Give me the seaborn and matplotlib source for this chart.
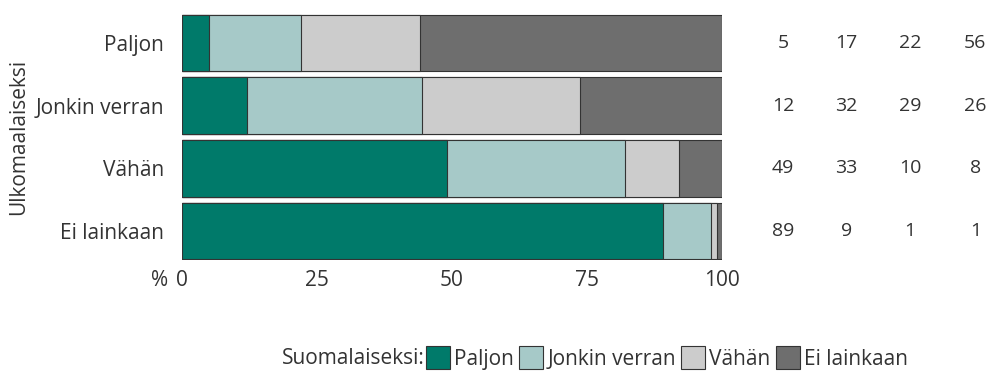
import pandas as pd
import numpy as np
import matplotlib
matplotlib.use("Agg")
import matplotlib.pyplot as plt
import seaborn as sns
from matplotlib.patches import Patch

# Data
categories = ['Paljon', 'Jonkin verran', 'Vähän', 'Ei lainkaan']
segments = ['Paljon', 'Jonkin verran', 'Vähän', 'Ei lainkaan']
paljon = [5, 12, 49, 89]
jonkin_verran = [17, 32, 33, 9]
vahan = [22, 29, 10, 1]
ei_lainkaan = [56, 26, 8, 1]
colors = ['#007A6A', '#A6C9C8', '#CCCCCC', '#6E6E6E']

sns.set_theme(style="white")
plt.rcParams['font.family'] = ['Open Sans', 'DejaVu Sans']
TXT = '#333333'
FS = 15

df = pd.DataFrame({'Ulkomaalaiseksi': categories, 'Paljon': paljon,
                   'Jonkin verran': jonkin_verran, 'Vähän': vahan,
                   'Ei lainkaan': ei_lainkaan})
# rows are rounded, scale them so each bar fills to 100
totals = df[segments].sum(axis=1)
shares = df[segments].div(totals, axis=0) * 100
cum = shares.cumsum(axis=1)

fig = plt.figure(figsize=(9.88, 3.73), dpi=100)
ax = fig.add_axes([182 / 988, 1 - 260 / 373, 540 / 988, 246 / 373])

# draw longest cumulative first so the shorter ones sit on top
for seg, col in reversed(list(zip(segments, colors))):
    sns.barplot(x=cum[seg], y=df['Ulkomaalaiseksi'], orient='h', color=col,
                width=0.9, edgecolor='#333333', linewidth=0.8, ax=ax,
                saturation=1)

ax.set_xlim(0, 100)
ax.set_ylim(3.46, -0.46)
ax.set_xticks([0, 25, 50, 75, 100])
ax.tick_params(axis='both', length=0, labelsize=FS, colors=TXT)
ax.tick_params(axis='x', pad=7)
ax.tick_params(axis='y', pad=13)
ax.set_xlabel('')
ax.set_ylabel('Ulkomaalaiseksi', fontsize=FS, color=TXT)
ax.yaxis.set_label_coords(-0.283, 0.5)
for s in ax.spines.values():
    s.set_visible(False)

# "%" sits on the tick label row, left of the 0
trans, va, _ = ax.get_xaxis_text1_transform(7)
ax.text(-2.6, 0, '%', transform=trans, ha='right', va=va, fontsize=FS,
        color=TXT)

# value columns on the right
col_x = [111.3, 123.0, 134.8, 146.9]
for i in range(len(categories)):
    for j, seg in enumerate(segments):
        ax.text(col_x[j], i, str(df[seg][i]), ha='center', va='center',
                fontsize=14, color=TXT, clip_on=False)

# legend
handles = [Patch(facecolor=c, edgecolor='#333333', linewidth=0.8) for c in colors]
fig.text(282 / 988, 1 - 358 / 373, 'Suomalaiseksi:', ha='left', va='center',
         fontsize=FS, color=TXT)
fig.legend(handles, segments, loc='center left',
           bbox_to_anchor=(426 / 988, 1 - 358 / 373), ncol=4, frameon=False,
           fontsize=FS, handlelength=1.15, handleheight=1.25,
           handletextpad=0.2, columnspacing=0.25, borderaxespad=0,
           borderpad=0, labelcolor=TXT)

fig.savefig('out.png', dpi=100)
